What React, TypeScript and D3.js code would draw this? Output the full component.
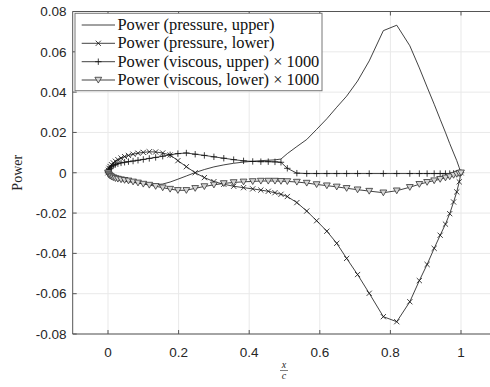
import React from "react";
import * as d3 from "d3";

const stations = [0, 0.001, 0.003, 0.006, 0.01, 0.015, 0.021, 0.028, 0.037, 0.047, 0.058, 0.071, 0.085, 0.1, 0.117, 0.135, 0.155, 0.176, 0.198, 0.222, 0.247, 0.273, 0.3, 0.328, 0.356, 0.384, 0.41, 0.433, 0.454, 0.473, 0.49, 0.508, 0.535, 0.563, 0.591, 0.62, 0.648, 0.676, 0.707, 0.74, 0.78, 0.818, 0.855, 0.882, 0.904, 0.924, 0.941, 0.956, 0.968, 0.979, 0.988, 0.995, 1.0];

const pressureUpper = [0, -0.0006, -0.0012, -0.0018, -0.0024, -0.0029, -0.0033, -0.0036, -0.0039, -0.0042, -0.0045, -0.0048, -0.0051, -0.0054, -0.0057, -0.0059, -0.0056, -0.0046, -0.0032, -0.0016, 0.0001, 0.0016, 0.0029, 0.0039, 0.0047, 0.0053, 0.0057, 0.006, 0.0062, 0.0064, 0.0068, 0.0095, 0.013, 0.0165, 0.0215, 0.0268, 0.0325, 0.038, 0.0455, 0.0555, 0.0705, 0.0732, 0.063, 0.052, 0.0425, 0.034, 0.0265, 0.02, 0.0145, 0.0098, 0.006, 0.0025, 0];

const pressureLower = [0, 0.0012, 0.0022, 0.0031, 0.004, 0.0049, 0.0057, 0.0065, 0.0073, 0.008, 0.0086, 0.0092, 0.0097, 0.0101, 0.0104, 0.0103, 0.0098, 0.0088, 0.006, 0.003, 0.0, -0.0024, -0.0044, -0.0057, -0.0067, -0.0074, -0.008, -0.0086, -0.0092, -0.0099, -0.0107, -0.0118, -0.0148, -0.019, -0.0238, -0.029, -0.035, -0.0425, -0.0505, -0.0598, -0.0714, -0.0739, -0.064, -0.0535, -0.0455, -0.0375, -0.031, -0.0255, -0.0203, -0.0145, -0.0095, -0.0045, 0];

const viscousUpper = [0, 0.0009, 0.0016, 0.0023, 0.003, 0.0036, 0.0041, 0.0045, 0.0049, 0.0052, 0.0055, 0.0058, 0.0062, 0.0066, 0.0071, 0.0076, 0.0082, 0.0089, 0.0095, 0.0098, 0.0092, 0.0086, 0.0079, 0.0072, 0.0065, 0.0059, 0.0056, 0.0055, 0.0055, 0.0054, 0.0052, 0.0022, -0.0002, -0.0004, -0.0004, -0.0004, -0.0004, -0.0004, -0.0004, -0.0004, -0.0004, -0.0004, -0.0004, -0.0004, -0.0004, -0.0004, -0.0004, -0.0004, -0.0004, -0.0003, -0.0002, -0.0001, 0];

const viscousLower = [0, -0.0006, -0.0011, -0.0016, -0.002, -0.0024, -0.0028, -0.0031, -0.0034, -0.0037, -0.004, -0.0045, -0.005, -0.0056, -0.0061, -0.0067, -0.0074, -0.0081, -0.0087, -0.0087, -0.0077, -0.0068, -0.006, -0.0053, -0.0048, -0.0045, -0.0043, -0.0041, -0.0041, -0.0041, -0.0042, -0.0043, -0.0046, -0.0051, -0.0058, -0.0064, -0.007, -0.0077, -0.0084, -0.0091, -0.0099, -0.0089, -0.0072, -0.0057, -0.0047, -0.0039, -0.0032, -0.0025, -0.0019, -0.0012, -0.0007, -0.0003, 0];

const xTicks = [0, 0.2, 0.4, 0.6, 0.8, 1];
const xTickLabels = ["0", "0.2", "0.4", "0.6", "0.8", "1"];
const yTicks = [-0.08, -0.06, -0.04, -0.02, 0, 0.02, 0.04, 0.06, 0.08];
const yTickLabels = ["-0.08", "-0.06", "-0.04", "-0.02", "0", "0.02", "0.04", "0.06", "0.08"];
const legendLabels = [
  "Power (pressure, upper)",
  "Power (pressure, lower)",
  "Power (viscous, upper) \u00d7 1000",
  "Power (viscous, lower) \u00d7 1000",
];

const W = 490;
const H = 387;
const L = 72.7;
const T = 11.5;
const B = 334;

type Marker = "none" | "x" | "plus" | "tri";

function MarkerShape({ kind, cx, cy }: { kind: Marker; cx: number; cy: number }) {
  if (kind === "x") {
    const s = 2.6;
    return (
      <path d={`M${cx - s},${cy - s}L${cx + s},${cy + s}M${cx - s},${cy + s}L${cx + s},${cy - s}`} stroke="#111" strokeWidth={0.8} fill="none" />
    );
  }
  if (kind === "plus") {
    const s = 3.2;
    return (
      <path d={`M${cx - s},${cy}L${cx + s},${cy}M${cx},${cy - s}L${cx},${cy + s}`} stroke="#111" strokeWidth={0.8} fill="none" />
    );
  }
  if (kind === "tri") {
    const s = 3.4;
    return (
      <path d={`M${cx - s},${cy - s * 0.8}L${cx + s},${cy - s * 0.8}L${cx},${cy + s * 0.9}Z`} stroke="#333" strokeWidth={0.8} fill="#d6d6d6" />
    );
  }
  return null;
}

export default function App() {
  const x = d3.scaleLinear().domain([-0.1, 1.1]).range([L, L + 1.2 * 353]);
  const y = d3.scaleLinear().domain([-0.08, 0.08]).range([B, T]);
  const line = d3
    .line<number>()
    .x((_, i) => x(stations[i]))
    .y((d) => y(d));

  const series: { values: number[]; marker: Marker }[] = [
    { values: pressureUpper, marker: "none" },
    { values: pressureLower, marker: "x" },
    { values: viscousUpper, marker: "plus" },
    { values: viscousLower, marker: "tri" },
  ];

  const axisColor = "#555";
  const gridColor = "#e9e9e9";
  const sans = "'Liberation Sans', Arial, Helvetica, sans-serif";
  const serif = "'Liberation Serif', 'Times New Roman', serif";

  const legX = 75;
  const legY = 13.3;
  const legW = 247;
  const legH = 77.4;
  const rowY = [25, 43.3, 61.7, 80];

  return (
    <svg width={W} height={H} style={{ position: "absolute", left: 0, top: 0, background: "#fff" }}>
      <defs>
        <clipPath id="plotClip">
          <rect x={L} y={T} width={W - L} height={B - T} />
        </clipPath>
      </defs>
      <rect x={0} y={0} width={W} height={H} fill="#fff" />
      {xTicks.map((t) => (
        <line key={"gx" + t} x1={x(t)} x2={x(t)} y1={T} y2={B} stroke={gridColor} strokeWidth={1} />
      ))}
      {yTicks.map((t) => (
        <line key={"gy" + t} x1={L} x2={W} y1={y(t)} y2={y(t)} stroke={gridColor} strokeWidth={1} />
      ))}
      <g clipPath="url(#plotClip)">
        {series.map((s, si) => (
          <g key={"s" + si}>
            <path d={line(s.values) || ""} fill="none" stroke="#111" strokeWidth={0.8} />
            {s.marker !== "none" &&
              s.values.map((v, i) => <MarkerShape key={i} kind={s.marker} cx={x(stations[i])} cy={y(v)} />)}
          </g>
        ))}
      </g>
      <line x1={L} x2={L} y1={T} y2={B} stroke={axisColor} strokeWidth={1} />
      <line x1={L} x2={W} y1={B} y2={B} stroke={axisColor} strokeWidth={1} />
      <line x1={L} x2={W} y1={T} y2={T} stroke={axisColor} strokeWidth={1} />
      {xTicks.map((t) => (
        <g key={"xt" + t}>
          <line x1={x(t)} x2={x(t)} y1={B} y2={B - 4} stroke={axisColor} strokeWidth={1} />
          <line x1={x(t)} x2={x(t)} y1={T} y2={T + 4} stroke={axisColor} strokeWidth={1} />
        </g>
      ))}
      {yTicks.map((t) => (
        <line key={"yt" + t} x1={L} x2={L + 4} y1={y(t)} y2={y(t)} stroke={axisColor} strokeWidth={1} />
      ))}
      {xTicks.map((t, i) => (
        <text key={"xl" + t} x={x(t)} y={357} textAnchor="middle" fontFamily={sans} fontSize={13.5} fill="#262626">
          {xTickLabels[i]}
        </text>
      ))}
      {yTicks.map((t, i) => (
        <text key={"yl" + t} x={66.5} y={y(t) + 4.8} textAnchor="end" fontFamily={sans} fontSize={13.5} fill="#262626">
          {yTickLabels[i]}
        </text>
      ))}
      <text transform={`translate(22,${(T + B) / 2}) rotate(-90)`} textAnchor="middle" fontFamily={serif} fontSize={14} fill="#262626">
        Power
      </text>
      <g fontFamily={serif} fontStyle="italic" fontSize={10} fill="#262626" textAnchor="middle">
        <text x={284} y={368}>x</text>
        <line x1={280} x2={288} y1={370.5} y2={370.5} stroke="#262626" strokeWidth={0.6} />
        <text x={284} y={378.5}>c</text>
      </g>
      <rect x={legX} y={legY} width={legW} height={legH} fill="#fff" stroke="#777" strokeWidth={1} />
      {legendLabels.map((lab, i) => (
        <g key={"lg" + i}>
          <line x1={81.7} x2={115} y1={rowY[i]} y2={rowY[i]} stroke="#111" strokeWidth={0.8} />
          <MarkerShape kind={series[i].marker} cx={98.3} cy={rowY[i]} />
          <text x={117.5} y={rowY[i] + 5} fontFamily={serif} fontSize={16.4} fill="#111">
            {lab}
          </text>
        </g>
      ))}
    </svg>
  );
}
